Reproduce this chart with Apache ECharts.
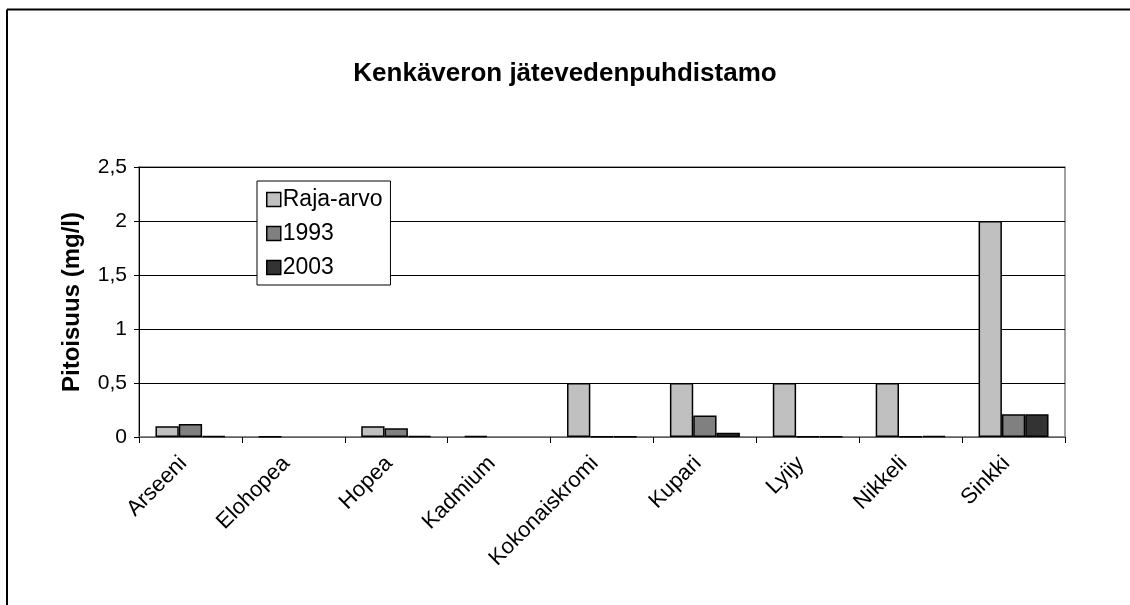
<!DOCTYPE html>
<html>
<head>
<meta charset="utf-8">
<script src="https://cdn.jsdelivr.net/npm/echarts@6/dist/echarts.min.js"></script>
<style>
html,body{margin:0;padding:0;background:#fff;}
#chart{width:1130px;height:605px;}
</style>
</head>
<body>
<div id="chart"></div>
<script>
var categories = ['Arseeni','Elohopea','Hopea','Kadmium','Kokonaiskromi','Kupari','Lyijy','Nikkeli','Sinkki'];
var seriesNames = ['Raja-arvo','1993','2003'];
var rajaArvo = [0.1, 0.005, 0.1, 0.01, 0.5, 0.5, 0.5, 0.5, 2.0];
var v1993    = [0.12, null, 0.08, null, 0.005, 0.2, 0.005, 0.005, 0.21];
var v2003    = [0.01, null, 0.01, null, 0.005, 0.04, 0.005, 0.01, 0.21];
var colors = ['#C0C0C0','#808080','#333333'];
var font = 'Arial, "Liberation Sans", sans-serif';

var chart = echarts.init(document.getElementById('chart'), null, {renderer:'canvas'});
var dataSets = [rajaArvo, v1993, v2003];
var series = dataSets.map(function(d, i){
  return {
    name: seriesNames[i],
    type: 'bar',
    data: d,
    barGap: '0%',
    barCategoryGap: '32%',
    itemStyle: {color: colors[i], borderColor: '#000', borderWidth: 1.5},
    emphasis: {disabled: true}
  };
});

chart.setOption({
  backgroundColor: '#fff',
  animation: false,
  color: colors,
  title: {
    text: 'Kenkäveron jätevedenpuhdistamo',
    left: 'center',
    top: 56,
    textStyle: {fontFamily: font, fontSize: 26, fontWeight: 'bold', color: '#000'}
  },
  graphic: [
    {type: 'line', shape: {x1: 7, y1: 9.5, x2: 1130, y2: 9.5}, style: {stroke: '#000', lineWidth: 2}},
    {type: 'line', shape: {x1: 7, y1: 9.5, x2: 7, y2: 605}, style: {stroke: '#000', lineWidth: 2}}
  ],
  legend: {
    orient: 'vertical',
    left: 257,
    top: 181,
    data: seriesNames,
    icon: 'rect',
    itemWidth: 14,
    itemHeight: 14,
    itemGap: 11,
    padding: [7, 8, 6, 9],
    borderColor: '#000',
    borderWidth: 1,
    backgroundColor: '#fff',
    textStyle: {fontFamily: font, fontSize: 23, color: '#000', padding: [0,0,0,-3]},
    itemStyle: {borderColor: '#000', borderWidth: 1.5}
  },
  grid: {
    left: 139, right: 65, top: 167, bottom: 168,
    show: true, borderColor: '#808080', borderWidth: 1.5, backgroundColor: 'transparent'
  },
  xAxis: {
    type: 'category',
    data: categories,
    axisLine: {show: true, lineStyle: {color: '#808080', width: 1.5}},
    axisTick: {show: true, alignWithLabel: false, length: 6, lineStyle: {color: '#000'}},
    axisLabel: {rotate: 45, fontFamily: font, fontSize: 22, color: '#000', margin: 16,
      padding: [0, 10, 0, 0], interval: 0}
  },
  yAxis: {
    type: 'value',
    min: 0, max: 2.5, interval: 0.5,
    name: 'Pitoisuus (mg/l)',
    nameLocation: 'middle',
    nameGap: 55,
    nameTextStyle: {fontFamily: font, fontSize: 24, fontWeight: 'bold', color: '#000'},
    axisLine: {show: true, lineStyle: {color: '#000', width: 1}},
    axisTick: {show: true, length: 5, lineStyle: {color: '#000'}},
    axisLabel: {fontFamily: font, fontSize: 21, color: '#000', margin: 12,
      formatter: function(v){ return String(v).replace('.', ','); }},
    splitLine: {show: true, lineStyle: {color: '#000', width: 1}}
  },
  series: series
});
</script>
</body>
</html>
